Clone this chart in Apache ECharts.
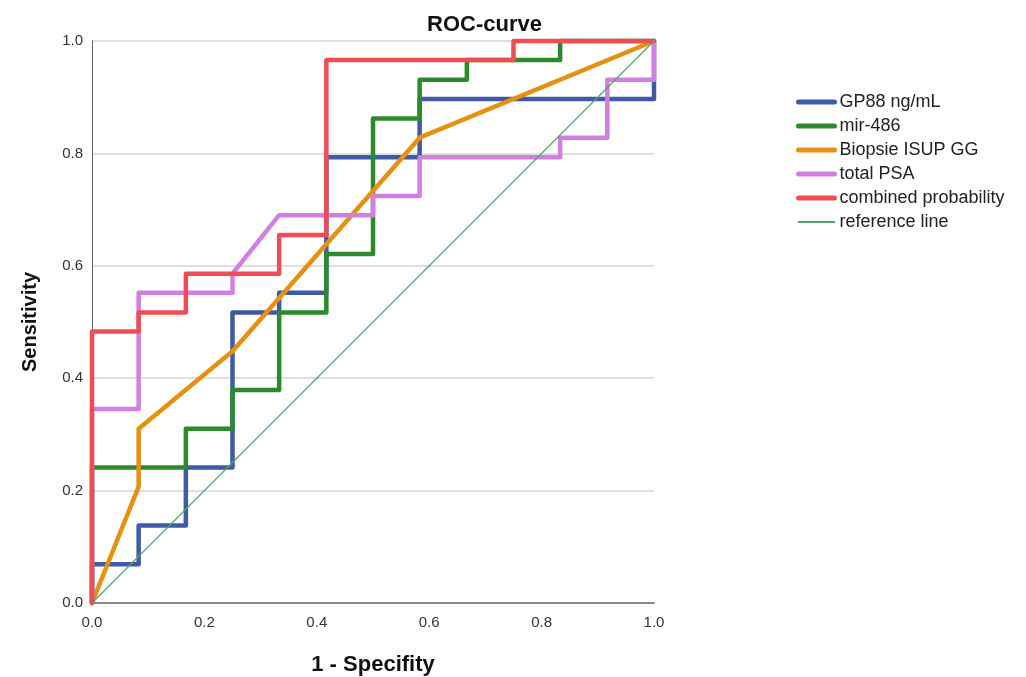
<!DOCTYPE html>
<html>
<head>
<meta charset="utf-8">
<script src="https://cdn.jsdelivr.net/npm/echarts@6/dist/echarts.min.js"></script>
<style>
html,body{margin:0;padding:0;background:#fff;}
#chart{width:1026px;height:677px;}
</style>
</head>
<body>
<div id="chart"></div>
<script>
// ---- data (1 - specificity, sensitivity) ----
const seriesNames = ['GP88 ng/mL', 'mir-486', 'Biopsie ISUP GG', 'total PSA', 'combined probability', 'reference line'];
const axisTicks = [0.0, 0.2, 0.4, 0.6, 0.8, 1.0];

const gp88Fpr = [0, 0, 0.083, 0.083, 0.167, 0.167, 0.25, 0.25, 0.333, 0.333, 0.417, 0.417, 0.583, 0.583, 1, 1];
const gp88Tpr = [0, 0.069, 0.069, 0.138, 0.138, 0.241, 0.241, 0.517, 0.517, 0.552, 0.552, 0.793, 0.793, 0.897, 0.897, 1];

const mirFpr = [0, 0, 0.167, 0.167, 0.25, 0.25, 0.333, 0.333, 0.417, 0.417, 0.5, 0.5, 0.583, 0.583, 0.667, 0.667, 0.833, 0.833, 1];
const mirTpr = [0, 0.241, 0.241, 0.310, 0.310, 0.379, 0.379, 0.517, 0.517, 0.621, 0.621, 0.862, 0.862, 0.931, 0.931, 0.966, 0.966, 1, 1];

const isupFpr = [0, 0.083, 0.083, 0.25, 0.583, 1];
const isupTpr = [0, 0.207, 0.310, 0.448, 0.828, 1];

const psaFpr = [0, 0, 0.083, 0.083, 0.25, 0.25, 0.333, 0.5, 0.5, 0.583, 0.583, 0.833, 0.833, 0.917, 0.917, 1, 1];
const psaTpr = [0, 0.345, 0.345, 0.552, 0.552, 0.586, 0.690, 0.690, 0.724, 0.724, 0.793, 0.793, 0.828, 0.828, 0.931, 0.931, 1];

const combFpr = [0, 0, 0.083, 0.083, 0.167, 0.167, 0.333, 0.333, 0.417, 0.417, 0.75, 0.75, 1];
const combTpr = [0, 0.483, 0.483, 0.517, 0.517, 0.586, 0.586, 0.655, 0.655, 0.966, 0.966, 1, 1];

const refFpr = [0, 1];
const refTpr = [0, 1];

// ---- build ----
const pairs = (xs, ys) => xs.map((x, i) => [x, ys[i]]);
const colors = ['#3f5aa8', '#2b8a2b', '#e8900f', '#d17fe3', '#ef4d53', '#4ea86a'];
const widths = [4.5, 4.5, 4.5, 4.5, 4.5, 1.3];
const dataSets = [
  pairs(gp88Fpr, gp88Tpr),
  pairs(mirFpr, mirTpr),
  pairs(isupFpr, isupTpr),
  pairs(psaFpr, psaTpr),
  pairs(combFpr, combTpr),
  pairs(refFpr, refTpr)
];
const FONT = '"Liberation Sans", Arial, sans-serif';

const chart = echarts.init(document.getElementById('chart'), null, {renderer: 'canvas'});
chart.setOption({
  animation: false,
  backgroundColor: '#ffffff',
  title: {
    text: 'ROC-curve',
    left: 422, top: 9,
    textStyle: {fontFamily: FONT, fontSize: 22, fontWeight: 'bold', color: '#111'}
  },
  legend: {
    orient: 'vertical',
    left: 796, top: 93, padding: 0,
    itemWidth: 36, itemHeight: 14, itemGap: 6,
    data: seriesNames.map((n, i) => ({
      name: n,
      lineStyle: {color: colors[i], width: i < 5 ? 5 : 1.8, cap: 'round'}
    })),
    itemStyle: {color: 'rgba(0,0,0,0)', borderWidth: 0, opacity: 0},
    textStyle: {fontFamily: FONT, fontSize: 18, color: '#222'}
  },
  grid: {left: 92, right: 372, top: 41, bottom: 74, containLabel: false, outerBoundsMode: 'none'},
  xAxis: {
    type: 'value', min: 0, max: 1, interval: 0.2,
    name: '1 - Specifity', nameLocation: 'middle', nameGap: 51,
    nameTextStyle: {fontFamily: FONT, fontSize: 22, fontWeight: 'bold', color: '#111'},
    axisLine: {show: true, lineStyle: {color: '#888', width: 2}},
    axisTick: {show: false},
    splitLine: {show: false},
    axisLabel: {fontFamily: FONT, fontSize: 15, color: '#333', margin: 12, formatter: v => v.toFixed(1)}
  },
  yAxis: {
    type: 'value', min: 0, max: 1, interval: 0.2,
    name: 'Sensitivity', nameLocation: 'middle', nameGap: 52, nameRotate: 90,
    nameTextStyle: {fontFamily: FONT, fontSize: 20, fontWeight: 'bold', color: '#111'},
    axisLine: {show: true, lineStyle: {color: '#666', width: 1}},
    axisTick: {show: false},
    splitLine: {show: true, lineStyle: {color: '#d4d4d4', width: 1.5}},
    axisLabel: {fontFamily: FONT, fontSize: 15, color: '#333', margin: 9, formatter: v => v.toFixed(1)}
  },
  series: dataSets.map((d, i) => ({
    name: seriesNames[i],
    type: 'line',
    data: d,
    showSymbol: false,
    symbol: 'none',
    clip: false,
    lineStyle: {color: colors[i], width: widths[i], join: 'round', cap: 'round'},
    itemStyle: {color: colors[i]},
    z: 2 + i
  }))
});
</script>
</body>
</html>
